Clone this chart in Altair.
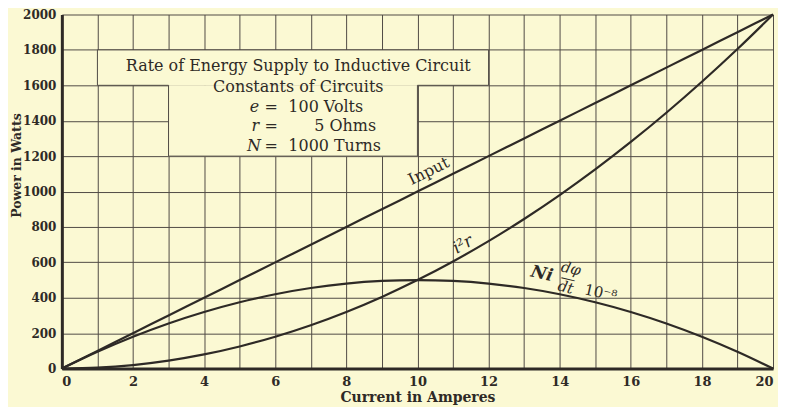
import altair as alt
import pandas as pd

# ---- data ----
current = list(range(21))
input_w = [0, 100, 200, 300, 400, 500, 600, 700, 800, 900, 1000,
           1100, 1200, 1300, 1400, 1500, 1600, 1700, 1800, 1900, 2000]
i2r_w = [0, 5, 20, 45, 80, 125, 180, 245, 320, 405, 500,
         605, 720, 845, 980, 1125, 1280, 1445, 1620, 1805, 2000]
ni_w = [0, 95, 180, 255, 320, 375, 420, 455, 480, 495, 500,
        495, 480, 455, 420, 375, 320, 255, 180, 95, 0]
x_ticks = list(range(0, 21))
y_ticks = list(range(0, 2001, 200))

BG = "#FBF9D3"
INK = "#2e2a26"
GRID = "#504b45"
FONT = "DejaVu Serif"

curves = pd.DataFrame({
    "x": current * 3,
    "y": input_w + i2r_w + ni_w,
    "s": ["Input"] * 21 + ["i2r"] * 21 + ["Ni"] * 21,
})

xs = alt.Scale(domain=[0, 20], nice=False, zero=True)
ys = alt.Scale(domain=[0, 2000], nice=False, zero=True)

x_axis = alt.Axis(values=x_ticks, grid=True, gridColor=GRID, gridWidth=1, gridOpacity=1,
                  labelExpr="datum.value % 2 == 0 ? datum.label : ''", labelOverlap=False,
                  ticks=False, labelPadding=7, domainColor=INK, domainWidth=3,
                  labelFont=FONT, labelFontSize=13, labelFontWeight="bold", labelColor=INK,
                  title="Current in Amperes", titleFont=FONT, titleFontSize=14,
                  titleFontWeight="bold", titleColor=INK, titleY=22, titleBaseline="top")
y_axis = alt.Axis(values=y_ticks, grid=True, gridColor=GRID, gridWidth=1, gridOpacity=1,
                  format="d", labelOverlap=False,
                  ticks=False, labelPadding=6, domainColor=INK, domainWidth=3,
                  labelFont=FONT, labelFontSize=12, labelFontWeight="bold", labelColor=INK,
                  title="Power in Watts", titleFont=FONT, titleFontSize=12.5,
                  titleFontWeight="bold", titleColor=INK, titleX=-41, titleY=151,
                  titleAngle=270, titleAlign="center", titleBaseline="alphabetic")

X = alt.X("x:Q", scale=xs, axis=x_axis)
Y = alt.Y("y:Q", scale=ys, axis=y_axis)

lines = alt.Chart(curves).mark_line(color=INK, strokeWidth=2.2, interpolate="monotone").encode(
    x=X, y=Y, detail="s:N")

# white-out box behind the legend text
box = pd.DataFrame({"x": [1, 3], "x2": [12, 10], "y": [1600, 1200], "y2": [1800, 1600]})
box_layer = alt.Chart(box).mark_rect(fill=BG).encode(x=X, x2="x2", y=Y, y2="y2")

outline = pd.DataFrame({
    "x": [1, 12, 12, 10, 10, 3, 3, 1, 1],
    "y": [1800, 1800, 1600, 1600, 1200, 1200, 1600, 1600, 1800],
    "o": list(range(9)),
})
outline_layer = alt.Chart(outline).mark_line(color=GRID, strokeWidth=1).encode(
    x=X, y=Y, order="o:Q")

def txt(df, **kw):
    base = dict(font=FONT, color=INK, baseline="middle")
    base.update(kw)
    return alt.Chart(pd.DataFrame(df)).mark_text(**base).encode(x=X, y=Y, text="t:N")

title_lines = txt({"x": [6.65, 6.65], "y": [1707, 1589],
                   "t": ["Rate of Energy Supply to Inductive Circuit", "Constants of Circuits"]},
                  fontSize=16, align="center")
var_names = txt({"x": [5.55, 5.55, 5.60], "y": [1476, 1369, 1256], "t": ["e", "r", "N"]},
                fontSize=16, fontStyle="italic", align="right")
equals = txt({"x": [5.89, 5.89, 5.89], "y": [1476, 1369, 1256], "t": ["=", "=", "="]},
             fontSize=16, align="center")
values = txt({"x": [6.37, 7.10, 6.37], "y": [1476, 1369, 1256],
              "t": ["100 Volts", "5 Ohms", "1000 Turns"]},
             fontSize=16, align="left")

input_lbl = txt({"x": [10.32], "y": [1115], "t": ["Input"]}, fontSize=16, angle=333.5, align="center")
i2r_lbl = txt({"x": [11.28], "y": [700], "t": ["i\u00b2r"]}, fontSize=17, fontStyle="italic",
              angle=330, align="center")
ni_lbl = txt({"x": [13.50], "y": [535], "t": ["Ni"]}, fontSize=17, fontStyle="italic",
             fontWeight="bold", angle=13, align="center")
frac_lbl = txt({"x": [14.32, 14.24, 14.17], "y": [565, 510, 460], "t": ["d\u03c6", "\u2014", "dt"]},
               fontSize=15, fontStyle="italic", angle=13, align="center")
exp_lbl = txt({"x": [15.15], "y": [428], "t": ["10\u207b\u2078"]}, fontSize=15, angle=13,
              align="center")

chart = alt.layer(
    box_layer, outline_layer, lines, title_lines, var_names, equals, values,
    input_lbl, i2r_lbl, ni_lbl, frac_lbl, exp_lbl,
).properties(
    width=713, height=355,
    background=BG,
    padding={"left": 54, "top": 6, "right": 5, "bottom": 38},
    autosize=alt.AutoSizeParams(type="none"),
).configure_view(stroke=None, fill=BG)

chart.save("out.html", embed_options={"renderer": "svg", "actions": False})
